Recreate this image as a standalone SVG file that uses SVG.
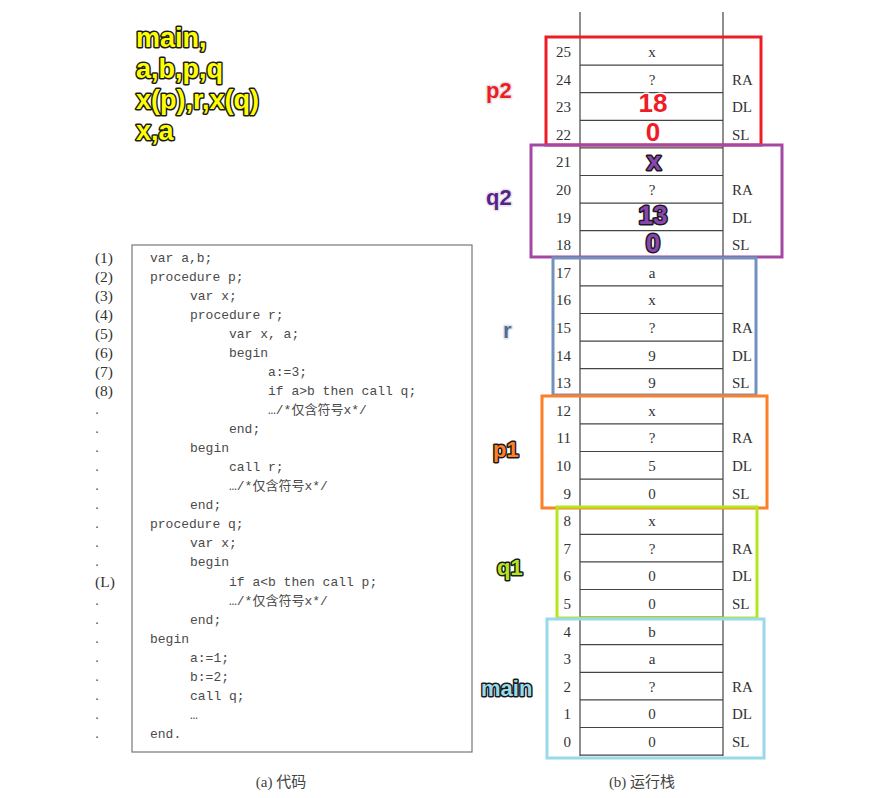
<svg xmlns="http://www.w3.org/2000/svg" width="889" height="798" viewBox="0 0 889 798">
<style>
.hdr{font-family:"Liberation Sans",Arial,sans-serif;font-weight:bold;font-size:27px;fill:#ffff00;stroke:#1a1a1a;stroke-width:3;paint-order:stroke;stroke-linejoin:round}
.code{font-family:"Liberation Mono","Noto Sans CJK SC",monospace;font-size:13px;fill:#4a4a4a}
.ln{font-family:"Liberation Serif","Noto Sans CJK SC",serif;font-size:15.5px;fill:#333}
.dot{font-family:"Liberation Serif",serif;font-size:14px;fill:#555}
.idx{font-family:"Liberation Serif",serif;font-size:15px;fill:#333;text-anchor:end}
.val{font-family:"Liberation Serif",serif;font-size:15px;fill:#333;text-anchor:middle}
.tag{font-family:"Liberation Serif",serif;font-size:15px;fill:#333}
.cap{font-family:"Liberation Serif","Noto Sans CJK SC",serif;font-size:15px;fill:#444;text-anchor:middle}
.lbl{font-family:"Liberation Sans",Arial,sans-serif;font-weight:bold;font-size:22px;stroke-width:3;paint-order:stroke;stroke-linejoin:round}
.big{font-family:"Liberation Sans",Arial,sans-serif;font-weight:bold;font-size:26px;text-anchor:middle;stroke-width:3;paint-order:stroke;stroke-linejoin:round}
.grid{stroke:#444;stroke-width:1.2;fill:none}
.frame{fill:none;stroke-width:3}
</style>
<rect width="889" height="798" fill="#ffffff"/>

<g id="header">
<text class="hdr" x="136" y="47">main,</text>
<text class="hdr" x="136" y="78">a,b,p,q</text>
<text class="hdr" x="136" y="109">x(p),r,x(q)</text>
<text class="hdr" x="136" y="140">x,a</text>
</g>

<g id="code">
<rect x="132" y="245" width="340" height="507" fill="none" stroke="#777" stroke-width="1.2"/>
<g class="ln" text-anchor="middle">
<text x="104" y="263">(1)</text>
<text x="104" y="282">(2)</text>
<text x="104" y="301">(3)</text>
<text x="104" y="320">(4)</text>
<text x="104" y="339">(5)</text>
<text x="104" y="358">(6)</text>
<text x="104" y="377">(7)</text>
<text x="104" y="396">(8)</text>
<text x="105" y="587">(L)</text>
</g>
<g class="dot" text-anchor="middle">
<text x="97" y="414">.</text>
<text x="97" y="433">.</text>
<text x="97" y="452">.</text>
<text x="97" y="471">.</text>
<text x="97" y="490">.</text>
<text x="97" y="509">.</text>
<text x="97" y="528">.</text>
<text x="97" y="547">.</text>
<text x="97" y="566">.</text>
<text x="97" y="605">.</text>
<text x="97" y="624">.</text>
<text x="97" y="643">.</text>
<text x="97" y="662">.</text>
<text x="97" y="681">.</text>
<text x="97" y="700">.</text>
<text x="97" y="719">.</text>
<text x="97" y="738">.</text>
</g>
<g class="code">
<text x="150" y="262">var a,b;</text>
<text x="150" y="281">procedure p;</text>
<text x="190" y="300">var x;</text>
<text x="190" y="319">procedure r;</text>
<text x="229" y="338">var x, a;</text>
<text x="229" y="357">begin</text>
<text x="268" y="376">a:=3;</text>
<text x="268" y="395">if a&gt;b then call q;</text>
<text x="268" y="414">…/*仅含符号x*/</text>
<text x="229" y="433">end;</text>
<text x="190" y="452">begin</text>
<text x="229" y="471">call r;</text>
<text x="229" y="490">…/*仅含符号x*/</text>
<text x="190" y="509">end;</text>
<text x="150" y="528">procedure q;</text>
<text x="190" y="547">var x;</text>
<text x="190" y="566">begin</text>
<text x="229" y="586">if a&lt;b then call p;</text>
<text x="229" y="605">…/*仅含符号x*/</text>
<text x="190" y="624">end;</text>
<text x="150" y="643">begin</text>
<text x="190" y="662">a:=1;</text>
<text x="190" y="681">b:=2;</text>
<text x="190" y="700">call q;</text>
<text x="190" y="719">…</text>
<text x="150" y="738">end.</text>
</g>
<text class="cap" x="281" y="787">(a) 代码</text>
</g>

<g id="stack">
<line class="grid" x1="580" y1="12" x2="580" y2="756"/>
<line class="grid" x1="723" y1="12" x2="723" y2="756"/>
<g class="grid">
<line x1="580" y1="37.5" x2="723" y2="37.5"/>
<line x1="580" y1="65.1" x2="723" y2="65.1"/>
<line x1="580" y1="92.7" x2="723" y2="92.7"/>
<line x1="580" y1="120.3" x2="723" y2="120.3"/>
<line x1="580" y1="147.9" x2="723" y2="147.9"/>
<line x1="580" y1="175.5" x2="723" y2="175.5"/>
<line x1="580" y1="203.1" x2="723" y2="203.1"/>
<line x1="580" y1="230.7" x2="723" y2="230.7"/>
<line x1="580" y1="258.3" x2="723" y2="258.3"/>
<line x1="580" y1="285.9" x2="723" y2="285.9"/>
<line x1="580" y1="313.5" x2="723" y2="313.5"/>
<line x1="580" y1="341.1" x2="723" y2="341.1"/>
<line x1="580" y1="368.7" x2="723" y2="368.7"/>
<line x1="580" y1="396.3" x2="723" y2="396.3"/>
<line x1="580" y1="423.9" x2="723" y2="423.9"/>
<line x1="580" y1="451.5" x2="723" y2="451.5"/>
<line x1="580" y1="479.1" x2="723" y2="479.1"/>
<line x1="580" y1="506.7" x2="723" y2="506.7"/>
<line x1="580" y1="534.3" x2="723" y2="534.3"/>
<line x1="580" y1="561.9" x2="723" y2="561.9"/>
<line x1="580" y1="589.5" x2="723" y2="589.5"/>
<line x1="580" y1="617.1" x2="723" y2="617.1"/>
<line x1="580" y1="644.7" x2="723" y2="644.7"/>
<line x1="580" y1="672.3" x2="723" y2="672.3"/>
<line x1="580" y1="699.9" x2="723" y2="699.9"/>
<line x1="580" y1="727.5" x2="723" y2="727.5"/>
<line x1="580" y1="755.1" x2="723" y2="755.1"/>
</g>
<g>
<text class="idx" x="571" y="57">25</text>
<text class="idx" x="571" y="84.6">24</text>
<text class="idx" x="571" y="112.2">23</text>
<text class="idx" x="571" y="139.8">22</text>
<text class="idx" x="571" y="167.4">21</text>
<text class="idx" x="571" y="195">20</text>
<text class="idx" x="571" y="222.6">19</text>
<text class="idx" x="571" y="250.2">18</text>
<text class="idx" x="571" y="277.8">17</text>
<text class="idx" x="571" y="305.4">16</text>
<text class="idx" x="571" y="333">15</text>
<text class="idx" x="571" y="360.6">14</text>
<text class="idx" x="571" y="388.2">13</text>
<text class="idx" x="571" y="415.8">12</text>
<text class="idx" x="571" y="443.4">11</text>
<text class="idx" x="571" y="471">10</text>
<text class="idx" x="571" y="498.6">9</text>
<text class="idx" x="571" y="526.2">8</text>
<text class="idx" x="571" y="553.8">7</text>
<text class="idx" x="571" y="581.4">6</text>
<text class="idx" x="571" y="609">5</text>
<text class="idx" x="571" y="636.6">4</text>
<text class="idx" x="571" y="664.2">3</text>
<text class="idx" x="571" y="691.8">2</text>
<text class="idx" x="571" y="719.4">1</text>
<text class="idx" x="571" y="747">0</text>
</g>
<g>
<text class="val" x="652" y="57">x</text>
<text class="val" x="652" y="84.6">?</text>
<text class="val" x="652" y="195">?</text>
<text class="val" x="652" y="277.8">a</text>
<text class="val" x="652" y="305.4">x</text>
<text class="val" x="652" y="333">?</text>
<text class="val" x="652" y="360.6">9</text>
<text class="val" x="652" y="388.2">9</text>
<text class="val" x="652" y="415.8">x</text>
<text class="val" x="652" y="443.4">?</text>
<text class="val" x="652" y="471">5</text>
<text class="val" x="652" y="498.6">0</text>
<text class="val" x="652" y="526.2">x</text>
<text class="val" x="652" y="553.8">?</text>
<text class="val" x="652" y="581.4">0</text>
<text class="val" x="652" y="609">0</text>
<text class="val" x="652" y="636.6">b</text>
<text class="val" x="652" y="664.2">a</text>
<text class="val" x="652" y="691.8">?</text>
<text class="val" x="652" y="719.4">0</text>
<text class="val" x="652" y="747">0</text>
</g>
<g>
<text class="tag" x="732" y="84.6">RA</text>
<text class="tag" x="732" y="112.2">DL</text>
<text class="tag" x="732" y="139.8">SL</text>
<text class="tag" x="732" y="195">RA</text>
<text class="tag" x="732" y="222.6">DL</text>
<text class="tag" x="732" y="250.2">SL</text>
<text class="tag" x="732" y="333">RA</text>
<text class="tag" x="732" y="360.6">DL</text>
<text class="tag" x="732" y="388.2">SL</text>
<text class="tag" x="732" y="443.4">RA</text>
<text class="tag" x="732" y="471">DL</text>
<text class="tag" x="732" y="498.6">SL</text>
<text class="tag" x="732" y="553.8">RA</text>
<text class="tag" x="732" y="581.4">DL</text>
<text class="tag" x="732" y="609">SL</text>
<text class="tag" x="732" y="691.8">RA</text>
<text class="tag" x="732" y="719.4">DL</text>
<text class="tag" x="732" y="747">SL</text>
</g>
<text class="cap" x="642" y="787">(b) 运行栈</text>
</g>

<g id="frame-p2">
<rect class="frame" x="546" y="37" width="215" height="108" stroke="#ee1c24"/>
<text class="lbl" x="486" y="98" fill="#ee1c24" stroke="#e6e6e6">p2</text>
<text class="big" x="653" y="112" fill="#ee1c24" stroke="#ffffff">18</text>
<text class="big" x="653" y="141" fill="#ee1c24" stroke="#ffffff">0</text>
</g>
<g id="frame-q2">
<rect class="frame" x="531" y="145" width="251" height="112" stroke="#a349a4"/>
<text class="lbl" x="486" y="205" fill="#5a1f8c" stroke="#e6e6e6">q2</text>
<text class="big" x="654" y="170" fill="#8a45b0" stroke="#1a1a1a">x</text>
<text class="big" x="653" y="224" fill="#8a45b0" stroke="#1a1a1a">13</text>
<text class="big" x="653" y="252" fill="#8a45b0" stroke="#1a1a1a">0</text>
</g>
<g id="frame-r">
<rect class="frame" x="553" y="258" width="203" height="137" stroke="#7092be"/>
<text class="lbl" x="503" y="338" fill="#4e6d97" stroke="#e6e6e6">r</text>
</g>
<g id="frame-p1">
<rect class="frame" x="542" y="396" width="225" height="112" stroke="#ff7f27"/>
<text class="lbl" x="493" y="457" fill="#ff7f27" stroke="#1a1a1a">p1</text>
</g>
<g id="frame-q1">
<rect class="frame" x="557" y="507" width="200" height="111" stroke="#b5e61d"/>
<text class="lbl" x="497" y="575" fill="#b5e61d" stroke="#1a1a1a">q1</text>
</g>
<g id="frame-main">
<rect class="frame" x="547" y="619" width="217" height="139" stroke="#99d9ea"/>
<text class="lbl" x="481" y="696" fill="#99d9ea" stroke="#1a1a1a">main</text>
</g>
</svg>
